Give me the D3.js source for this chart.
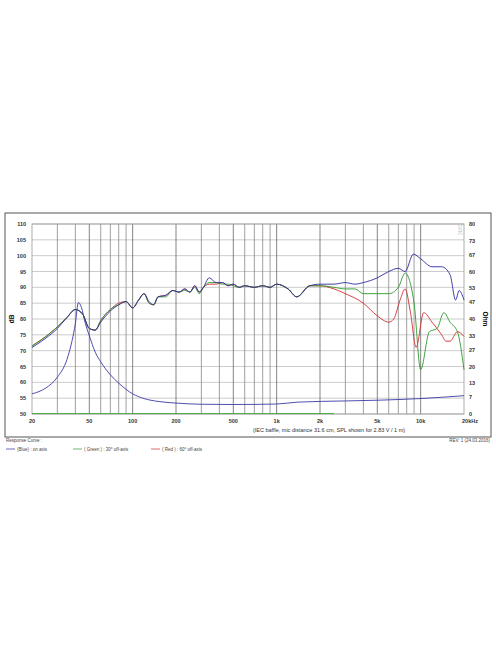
<!DOCTYPE html>
<html><head><meta charset="utf-8">
<script src="https://cdnjs.cloudflare.com/ajax/libs/d3/7.8.5/d3.min.js"></script>
<style>body{margin:0;background:#fff}text{font-family:"Liberation Sans",Arial,sans-serif}</style>
</head><body><svg id="c" width="496" height="664"></svg>
<script>
// SPL curves [Hz, dB]
var blueSpl = [[20,71],[25,74],[30,77],[35,80.5],[40,83],[45,81.5],[50,77],[55,76.5],[60,79],[70,82.5],[80,84.5],[90,85.5],[100,83.5],[110,86],[120,88],[130,85.5],[140,84.5],[150,87],[170,87.5],[190,89],[210,88.5],[230,89.5],[250,88.5],[270,90.5],[290,88.5],[310,90],[340,93],[380,91.5],[420,91.5],[460,90.5],[500,91],[550,90],[600,90.5],[700,90],[800,90.5],[900,90],[1000,91],[1200,89.5],[1380,87],[1700,90.5],[2000,91],[2500,91],[3000,91.5],[3500,91],[4000,91.5],[5000,93],[6000,95],[7000,96],[7800,95],[8900,100.5],[10000,99],[12000,96.5],[14000,96.5],[16000,94],[17500,86],[18500,89],[20000,86]];
var greenSpl = [[20,71.5],[25,74.5],[30,77.5],[35,80.5],[40,83],[45,81.5],[50,77],[55,76.5],[60,79.5],[70,83],[80,84.5],[90,85.5],[100,83.5],[110,86],[120,88],[130,85],[140,84.5],[150,87],[170,87],[190,89],[210,88.5],[230,89],[250,88.5],[270,90],[290,88],[310,90],[340,91.5],[380,91.5],[420,91],[460,91],[500,90.5],[550,90],[600,90.5],[700,90],[800,90.5],[900,90],[1000,91],[1200,89.5],[1380,87],[1700,90.5],[2000,90.5],[2500,90],[3000,89.5],[3500,89.5],[4000,88],[5000,88],[6000,88],[7000,90],[7800,94.5],[9000,85],[10000,64],[11500,76],[13000,77],[14500,82],[16000,79],[18000,76],[20000,64]];
var redSpl = [[20,71.5],[25,74.5],[30,77.5],[35,80.5],[40,83],[45,81.5],[50,77],[55,76.5],[60,79.5],[70,83],[80,85],[90,85.5],[100,83.5],[110,86],[120,88],[130,85],[140,84.5],[150,87],[170,87.5],[190,89],[210,88.5],[230,89.5],[250,88.5],[270,90.5],[290,88.5],[310,90],[340,91],[380,91],[420,91.5],[460,90.5],[500,91],[550,90],[600,90.5],[700,90],[800,90.5],[900,90],[1000,91],[1200,89.5],[1380,87],[1700,90.5],[2000,90.5],[2500,89.5],[3000,88],[4000,85],[5000,81],[6000,79],[6500,80],[7200,86],[7800,89.5],[8500,82],[9300,71],[10500,82],[12000,79],[14000,75],[15000,73],[16000,73],[18000,76],[20000,74.5]];
// impedance [Hz, Ohm]
var impedance = [[20,8.5],[25,11],[30,15.5],[35,23],[38,31],[40,38],[42,47],[44,45],[47,38],[50,33],[55,26],[60,22],[70,16.5],[80,13],[100,8.5],[120,6.5],[150,5.3],[200,4.6],[300,4.1],[500,4],[1000,4.2],[1400,5],[3000,5.5],[5000,5.8],[10000,6.5],[20000,7.7]];
var xTicks = [20,50,100,200,500,1000,2000,5000,10000,20000];
var xLabels = ["20","50","100","200","500","1k","2k","5k","10k","20kHz"];
var gridFreqs = [30,40,50,60,70,80,90,100,200,300,400,500,600,700,800,900,1000,2000,3000,4000,5000,6000,7000,8000,9000,10000];
var dbTicks = d3.range(50,111,5);
var ohmTicks = [0,7,13,20,27,33,40,47,53,60,67,73,80];

var svg = d3.select("#c");
var x = d3.scaleLog().domain([20,20000]).range([32,464]);
var y = d3.scaleLinear().domain([50,110]).range([414,224]);
var yo = d3.scaleLinear().domain([0,80]).range([414,224]);

svg.append("rect").attr("x",5).attr("y",213).attr("width",486).attr("height",224)
  .attr("fill","none").attr("stroke","#555").attr("stroke-width",1);

svg.selectAll(".hg").data(dbTicks).enter().append("line")
  .attr("x1",32).attr("x2",464).attr("y1",d=>y(d)).attr("y2",d=>y(d))
  .attr("stroke","#aaa").attr("stroke-width",0.6);
svg.selectAll(".vg").data(gridFreqs).enter().append("line")
  .attr("x1",d=>x(d)).attr("x2",d=>x(d)).attr("y1",224).attr("y2",414)
  .attr("stroke",d=>xTicks.indexOf(d)>=0 ? "#666" : "#888").attr("stroke-width",0.8);
svg.append("rect").attr("x",32).attr("y",224).attr("width",432).attr("height",190)
  .attr("fill","none").attr("stroke","#999").attr("stroke-width",0.8);

svg.selectAll(".yl").data(dbTicks).enter().append("text")
  .attr("x",26).attr("y",d=>y(d)+2).attr("text-anchor","end")
  .attr("font-size",5.5).attr("font-weight","bold").attr("fill","#333").text(d=>d);
svg.selectAll(".ol").data(ohmTicks).enter().append("text")
  .attr("x",469).attr("y",d=>yo(d)+2)
  .attr("font-size",5.5).attr("font-weight","bold").attr("fill","#333").text(d=>d);
svg.selectAll(".xl").data(xTicks).enter().append("text")
  .attr("x",(d,i)=>i==xTicks.length-1 ? 470 : x(d)).attr("y",423).attr("text-anchor","middle")
  .attr("font-size",5.5).attr("font-weight","bold").attr("fill","#333").text((d,i)=>xLabels[i]);
svg.append("text").attr("transform","translate(14,319) rotate(-90)").attr("text-anchor","middle")
  .attr("font-size",6.5).attr("font-weight","bold").text("dB");
svg.append("text").attr("transform","translate(483,319) rotate(90)").attr("text-anchor","middle")
  .attr("font-size",6.5).attr("font-weight","bold").text("Ohm");
svg.append("text").attr("transform","translate(458,230) rotate(90)").attr("text-anchor","middle")
  .attr("font-size",4.5).attr("fill","#bbb").text("DIRC");
svg.append("text").attr("x",329).attr("y",432).attr("text-anchor","middle").attr("font-size",5.5).attr("fill","#333")
  .text("(IEC baffle, mic distance 31.6 cm, SPL shown for 2.83 V / 1 m)");

svg.append("line").attr("x1",32).attr("x2",x(2500)).attr("y1",413.5).attr("y2",413.5).attr("stroke","#3a3").attr("stroke-width",0.8);

var lineDb = d3.line().x(d=>x(d[0])).y(d=>y(d[1])).curve(d3.curveMonotoneX);
var lineOhm = d3.line().x(d=>x(d[0])).y(d=>yo(d[1])).curve(d3.curveMonotoneX);
svg.append("path").datum(impedance).attr("d",lineOhm).attr("fill","none").attr("stroke","#3a3aa8").attr("stroke-width",0.9);
svg.append("path").datum(redSpl).attr("d",lineDb).attr("fill","none").attr("stroke","#d03030").attr("stroke-width",0.9);
svg.append("path").datum(greenSpl).attr("d",lineDb).attr("fill","none").attr("stroke","#2c9a2c").attr("stroke-width",0.9);
svg.append("path").datum(blueSpl).attr("d",lineDb).attr("fill","none").attr("stroke","#2a2aa0").attr("stroke-width",0.9);

svg.append("text").attr("x",6).attr("y",442).attr("font-size",4.5).attr("fill","#444").text("Response Curve :");
svg.append("text").attr("x",490).attr("y",442).attr("text-anchor","end").attr("font-size",4.5).attr("fill","#444").text("REV: 1 (24.03.2016)");
var legend = [["(Blue) : on axis","#2a2aa0",6],["( Green ) : 30° off-axis","#2c9a2c",73],["( Red ) : 60° off-axis","#d03030",151]];
legend.forEach(function(l){
  svg.append("line").attr("x1",l[2]).attr("x2",l[2]+9).attr("y1",449).attr("y2",449).attr("stroke",l[1]).attr("stroke-width",0.7);
  svg.append("text").attr("x",l[2]+11).attr("y",450.5).attr("font-size",4.5).attr("fill","#444").text(l[0]);
});
</script></body></html>
